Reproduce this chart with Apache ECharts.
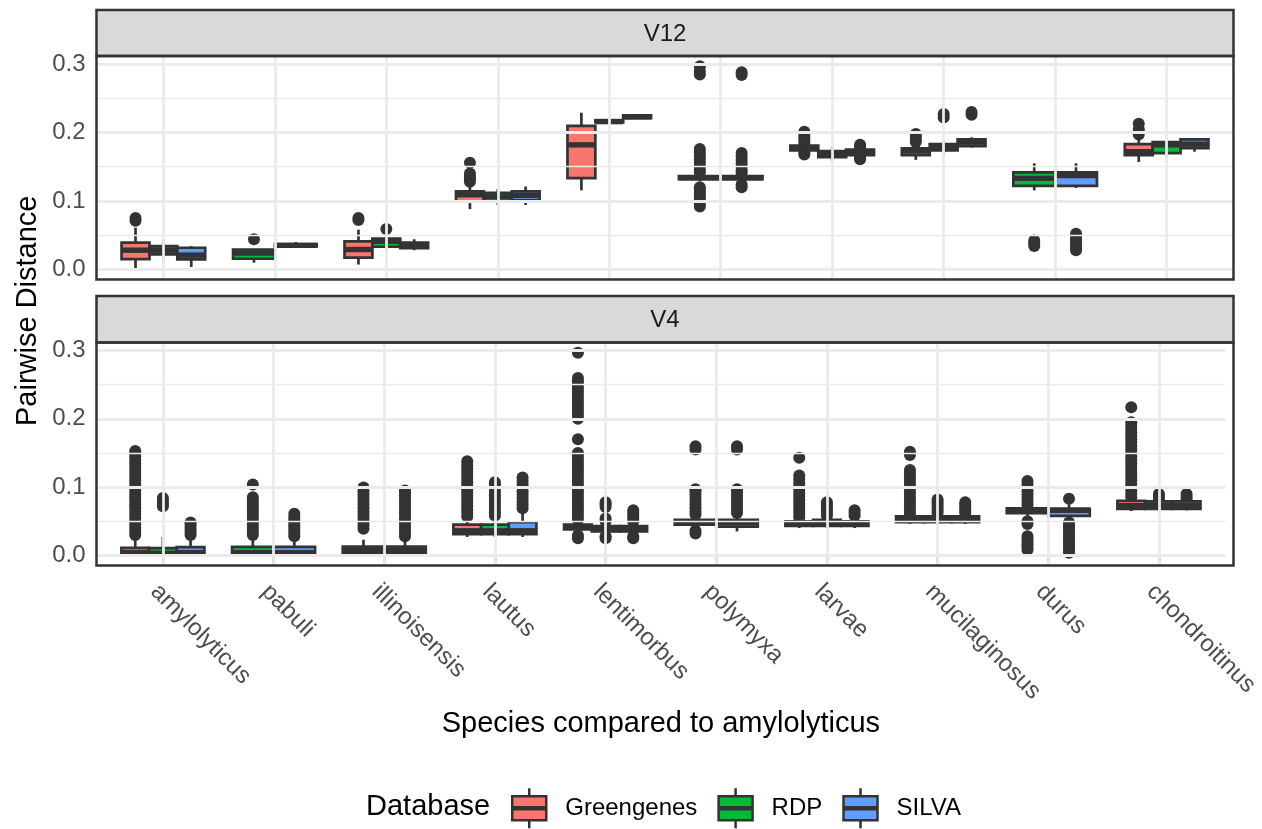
<!DOCTYPE html>
<html><head><meta charset="utf-8">
<script src="https://cdn.jsdelivr.net/npm/echarts@6/dist/echarts.min.js"></script>
<style>html,body{margin:0;padding:0;background:#fff}#c{width:1262px;height:829px}</style>
</head><body><div id="c"></div>
<script>
const categories = ['amylolyticus','pabuli','illinoisensis','lautus','lentimorbus','polymyxa','larvae','mucilaginosus','durus','chondroitinus'];
const databases = ['Greengenes','RDP','SILVA'];
const colors = ['#F8766D','#00BA38','#619CFF'];
const yTicks = [0, 0.1, 0.2, 0.3];
const yMinor = [0.05, 0.15, 0.25];

// box stats per category: [lower whisker, Q1, median, Q3, upper whisker]; null = group absent
const v12Greengenes = [
 [0.000, 0.015, 0.028, 0.039, 0.061], null,
 [0.007, 0.017, 0.029, 0.041, 0.058],
 [0.088, 0.099, 0.109, 0.114, 0.124],
 [0.1155, 0.1335, 0.182, 0.2097, 0.229], null,
 [0.172, 0.174, 0.178, 0.181, 0.183],
 [0.160, 0.167, 0.173, 0.177, 0.180], null,
 [0.157, 0.167, 0.172, 0.183, 0.191]
];
const v12RDP = [
 [0.010, 0.022, 0.028, 0.034, 0.044],
 [0.0097, 0.0155, 0.024, 0.029, 0.030],
 [0.028, 0.033, 0.041, 0.045, 0.050],
 [0.094, 0.099, 0.106, 0.112, 0.1175],
 [0.213, 0.215, 0.216, 0.218, 0.219],
 [0.129, 0.132, 0.134, 0.1365, 0.139],
 [0.159, 0.164, 0.169, 0.173, 0.180],
 [0.166, 0.174, 0.179, 0.183, 0.188],
 [0.1155, 0.122, 0.133, 0.1417, 0.155],
 [0.165, 0.170, 0.182, 0.186, 0.187]
];
const v12SILVA = [
 [0.0034, 0.0146, 0.0208, 0.0316, 0.034],
 [0.032, 0.0335, 0.035, 0.037, 0.040],
 [0.028, 0.031, 0.035, 0.039, 0.044],
 [0.094, 0.101, 0.108, 0.114, 0.121],
 [0.220, 0.221, 0.223, 0.225, 0.226],
 [0.128, 0.132, 0.134, 0.1365, 0.140],
 [0.163, 0.167, 0.172, 0.175, 0.178],
 [0.178, 0.180, 0.186, 0.190, 0.193],
 [0.119, 0.122, 0.137, 0.1417, 0.155],
 [0.172, 0.177, 0.183, 0.190, 0.191]
];
const v12GreengenesOut = [
 [0.071, 0.075], [], [0.072, 0.075],
 [0.128, 0.132, 0.136, 0.140, 0.156], [], [],
 [0.168, 0.171, 0.185, 0.189, 0.193, 0.197, 0.201],
 [0.186, 0.190, 0.194, 0.198], [],
 [0.197, 0.201, 0.205, 0.213]
];
const v12RDPOut = [
 [], [0.044], [0.059], [], [],
 [0.297, 0.290, 0.285, 0.176, 0.171, 0.166, 0.161, 0.156, 0.151, 0.146, 0.142, 0.120, 0.116, 0.112, 0.108, 0.104, 0.100, 0.096, 0.092],
 [], [0.222, 0.227], [0.034, 0.038, 0.042], []
];
const v12SILVAOut = [
 [], [], [], [], [],
 [0.288, 0.284, 0.170, 0.165, 0.160, 0.155, 0.150, 0.145, 0.141, 0.124, 0.120],
 [0.161, 0.164, 0.179, 0.182],
 [0.226, 0.230],
 [0.028, 0.032, 0.036, 0.040, 0.044, 0.048, 0.052], []
];

const v4Greengenes = [
 [0.000, 0.0005, 0.004, 0.011, 0.023], null, null,
 [0.027, 0.031, 0.036, 0.045, 0.052],
 [0.032, 0.038, 0.042, 0.045, 0.048], null,
 [0.040, 0.043, 0.046, 0.050, 0.052],
 [0.046, 0.0485, 0.053, 0.057, 0.058], null,
 [0.065, 0.068, 0.073, 0.080, 0.082]
];
const v4RDP = [
 [0.000, 0.0003, 0.003, 0.0105, 0.027],
 [0.000, 0.0005, 0.004, 0.0125, 0.022],
 [0.000, 0.003, 0.008, 0.013, 0.023],
 [0.027, 0.031, 0.036, 0.045, 0.052],
 [0.032, 0.035, 0.038, 0.043, 0.047],
 [0.040, 0.045, 0.049, 0.052, 0.056],
 [0.040, 0.043, 0.048, 0.052, 0.055],
 [0.046, 0.0485, 0.053, 0.057, 0.059],
 [0.058, 0.062, 0.066, 0.069, 0.071],
 [0.066, 0.068, 0.073, 0.079, 0.080]
];
const v4SILVA = [
 [0.000, 0.0005, 0.004, 0.012, 0.023],
 [0.000, 0.0005, 0.004, 0.0125, 0.022],
 [0.000, 0.003, 0.008, 0.013, 0.020],
 [0.027, 0.031, 0.036, 0.0485, 0.0645],
 [0.032, 0.035, 0.038, 0.043, 0.047],
 [0.035, 0.042, 0.048, 0.052, 0.058],
 [0.040, 0.043, 0.046, 0.050, 0.053],
 [0.046, 0.0485, 0.053, 0.057, 0.059],
 [0.056, 0.058, 0.066, 0.068, 0.075],
 [0.066, 0.068, 0.073, 0.079, 0.080]
];
const v4GreengenesOut = [
 [0.030,0.035,0.040,0.045,0.050,0.055,0.060,0.065,0.070,0.075,0.080,0.085,0.090,0.095,0.100,0.105,0.110,0.115,0.120,0.125,0.130,0.135,0.140,0.145,0.150,0.153],
 [], [],
 [0.057,0.062,0.067,0.072,0.077,0.082,0.087,0.092,0.097,0.102,0.107,0.112,0.117,0.122,0.127,0.132,0.138],
 [0.025,0.029,0.052,0.057,0.062,0.067,0.072,0.077,0.082,0.087,0.092,0.097,0.102,0.107,0.112,0.117,0.122,0.127,0.132,0.137,0.142,0.147,0.150,0.170,0.200,0.205,0.210,0.215,0.220,0.225,0.230,0.235,0.240,0.245,0.250,0.255,0.260,0.297],
 [],
 [0.056,0.061,0.066,0.071,0.076,0.081,0.086,0.091,0.096,0.101,0.106,0.111,0.117,0.143],
 [0.061,0.066,0.071,0.076,0.081,0.086,0.091,0.096,0.101,0.106,0.111,0.116,0.121,0.125,0.147,0.152],
 [],
 [0.085,0.090,0.095,0.100,0.105,0.110,0.115,0.120,0.125,0.130,0.135,0.140,0.145,0.150,0.155,0.160,0.165,0.170,0.175,0.180,0.185,0.190,0.195,0.217]
];
const v4RDPOut = [
 [0.072,0.076,0.080,0.084],
 [0.030,0.035,0.040,0.045,0.050,0.055,0.060,0.065,0.070,0.075,0.080,0.085,0.104],
 [0.039,0.044,0.049,0.054,0.059,0.064,0.069,0.074,0.079,0.084,0.089,0.094,0.0995],
 [0.058,0.063,0.068,0.073,0.078,0.083,0.088,0.093,0.098,0.103,0.107],
 [0.025,0.028,0.050,0.054,0.071,0.075,0.078],
 [0.032,0.036,0.060,0.064,0.069,0.074,0.079,0.084,0.089,0.094,0.097,0.155,0.160],
 [0.058,0.062,0.066,0.070,0.074,0.078],
 [0.062,0.066,0.070,0.074,0.078,0.082],
 [0.008,0.012,0.016,0.020,0.024,0.028,0.046,0.050,0.074,0.079,0.084,0.089,0.094,0.099,0.104,0.109],
 [0.082,0.086,0.090]
];
const v4SILVAOut = [
 [0.030,0.034,0.038,0.042,0.046,0.048],
 [0.028,0.032,0.036,0.040,0.044,0.048,0.052,0.056,0.061],
 [0.028,0.033,0.038,0.043,0.048,0.053,0.058,0.063,0.068,0.073,0.078,0.083,0.088,0.092,0.095],
 [0.069,0.074,0.079,0.084,0.089,0.094,0.099,0.104,0.109,0.114],
 [0.025,0.028,0.050,0.054,0.058,0.062,0.066],
 [0.062,0.067,0.072,0.077,0.082,0.087,0.092,0.097,0.155,0.160],
 [0.058,0.062,0.066],
 [0.062,0.066,0.070,0.074,0.078],
 [0.004,0.008,0.012,0.016,0.020,0.024,0.028,0.032,0.036,0.040,0.044,0.048,0.083],
 [0.082,0.086,0.090]
];

const panels = [
  {name: 'V12', boxes: [v12Greengenes, v12RDP, v12SILVA], outs: [v12GreengenesOut, v12RDPOut, v12SILVAOut]},
  {name: 'V4', boxes: [v4Greengenes, v4RDP, v4SILVA], outs: [v4GreengenesOut, v4RDPOut, v4SILVAOut]}
];

const FONT = '"Liberation Sans", Arial, Helvetica, sans-serif';
const L = 96.5, R = 1233.5, W = R - L;
const layout = [
  {strip: 10, top: 56, bottom: 279.5},
  {strip: 296, top: 342.5, bottom: 565.5}
];
const Y_MIN = -0.01485, Y_MAX = 0.3119;
const X_MIN = -0.6, X_MAX = 9.6;
const DODGE = 0.75;
const DARK = '#333333';
const TICK_FONT = 24;

function renderBox(params, api) {
  const x = api.value(0), w = api.value(6);
  const c = v => api.coord([x, v]);
  const pLow = c(api.value(1)), pQ1 = c(api.value(2)), pMed = c(api.value(3)), pQ3 = c(api.value(4)), pHigh = c(api.value(5));
  const half = api.size([w, 0])[0] / 2;
  const cx = pMed[0];
  const fill = api.visual('color');
  const ls = {stroke: DARK, lineWidth: 2.7};
  return {type: 'group', children: [
    {type: 'line', shape: {x1: cx, y1: pHigh[1], x2: cx, y2: pQ3[1]}, style: ls},
    {type: 'line', shape: {x1: cx, y1: pQ1[1], x2: cx, y2: pLow[1]}, style: ls},
    {type: 'rect', shape: {x: cx - half, y: pQ3[1], width: 2 * half, height: pQ1[1] - pQ3[1]}, style: {fill: fill, stroke: DARK, lineWidth: 2.7}},
    {type: 'line', shape: {x1: cx - half, y1: pMed[1], x2: cx + half, y2: pMed[1]}, style: {stroke: DARK, lineWidth: 5.4}}
  ]};
}

const grids = [], xAxes = [], yAxes = [], series = [], graphics = [];
const catIdx = categories.map((c, i) => i);
panels.forEach((p, pi) => {
  const lay = layout[pi];
  const isBottom = pi === panels.length - 1;
  grids.push({left: L, top: lay.top, width: W, height: lay.bottom - lay.top, show: true, backgroundColor: '#fff', borderWidth: 0});
  xAxes.push({
    gridIndex: pi, type: 'value', min: X_MIN, max: X_MAX,
    axisLine: {show: false}, splitLine: {show: false},
    axisTick: {show: isBottom, customValues: catIdx, length: 7, lineStyle: {color: DARK, width: 2.5}},
    axisLabel: {show: isBottom, customValues: catIdx, formatter: v => categories[Math.round(v)] || '', rotate: -45,
      verticalAlign: 'top', fontSize: TICK_FONT, color: '#4D4D4D', fontFamily: FONT, margin: 14},
    name: isBottom ? 'Species compared to amylolyticus' : '', nameLocation: 'middle', nameGap: 144,
    nameTextStyle: {fontSize: 29, color: '#000', fontFamily: FONT}
  });
  yAxes.push({
    gridIndex: pi, type: 'value', min: Y_MIN, max: Y_MAX,
    axisLine: {show: false}, splitLine: {show: false},
    axisTick: {show: true, customValues: yTicks, length: 7, lineStyle: {color: DARK, width: 2.5}},
    axisLabel: {customValues: yTicks, formatter: v => v.toFixed(1), fontSize: TICK_FONT, color: '#4D4D4D', fontFamily: FONT, margin: 11}
  });
  series.push({
    type: 'scatter', name: 'grid' + pi, xAxisIndex: pi, yAxisIndex: pi, data: [], silent: true, z: 1, animation: false,
    markLine: {silent: true, symbol: ['none', 'none'], label: {show: false}, animation: false,
      data: [].concat(
        yMinor.map(v => ({yAxis: v, lineStyle: {color: '#EBEBEB', width: 1.4, type: 'solid'}})),
        yTicks.map(v => ({yAxis: v, lineStyle: {color: '#EBEBEB', width: 2.8, type: 'solid'}})),
        catIdx.map(i => ({xAxis: i, lineStyle: {color: '#EBEBEB', width: 2.8, type: 'solid'}}))
      )}
  });
  const outData = [];
  const boxData = databases.map(() => []);
  categories.forEach((c, ci) => {
    const present = databases.map((d, di) => di).filter(di => p.boxes[di][ci]);
    const n = present.length, w = DODGE / n;
    present.forEach((di, k) => {
      const x = ci + (k - (n - 1) / 2) * w;
      const s = p.boxes[di][ci];
      boxData[di].push([x, s[0], s[1], s[2], s[3], s[4], w]);
      p.outs[di][ci].forEach(v => outData.push([x, v]));
    });
  });
  series.push({type: 'scatter', name: 'outliers ' + p.name, xAxisIndex: pi, yAxisIndex: pi, data: outData,
    symbol: 'circle', symbolSize: 12, itemStyle: {color: DARK, opacity: 1}, z: 2, silent: true, animation: false});
  databases.forEach((d, di) => {
    series.push({type: 'custom', name: d, xAxisIndex: pi, yAxisIndex: pi, data: boxData[di],
      itemStyle: {color: colors[di]}, z: 3, renderItem: renderBox, encode: {x: 0, y: 1}, animation: false, silent: true});
  });
  graphics.push({type: 'rect', shape: {x: L, y: lay.strip, width: W, height: lay.top - lay.strip},
    style: {fill: '#D9D9D9', stroke: DARK, lineWidth: 2.5}, z: 10, silent: true});
  graphics.push({type: 'text', x: L + W / 2, y: (lay.strip + lay.top) / 2 + 1.5, z: 11, silent: true,
    style: {text: p.name, fontSize: TICK_FONT, fontFamily: FONT, fill: '#1A1A1A', textAlign: 'center', textVerticalAlign: 'middle'}});
  graphics.push({type: 'rect', shape: {x: L, y: lay.top, width: W, height: lay.bottom - lay.top},
    style: {fill: 'none', stroke: DARK, lineWidth: 2.5}, z: 100, silent: true});
});
graphics.push({type: 'text', x: 28, y: (layout[0].top + layout[1].bottom) / 2, rotation: Math.PI / 2, silent: true,
  style: {text: 'Pairwise Distance', fontSize: 29, fontFamily: FONT, fill: '#000', textAlign: 'center', textVerticalAlign: 'middle'}});

const chart = echarts.init(document.getElementById('c'));
chart.setOption({
  animation: false,
  backgroundColor: '#fff',
  title: [{text: 'Database', left: 361, top: 787, textStyle: {fontSize: 29, fontWeight: 'normal', color: '#000', fontFamily: FONT}}],
  legend: {
    data: databases, left: 506, top: 782, orient: 'horizontal', itemWidth: 34, itemHeight: 40, itemGap: 20,
    icon: 'path://M17,0L17,8M17,32L17,40M0,8L34,8L34,32L0,32ZM0,19L34,19M0,21L34,21',
    itemStyle: {borderColor: DARK, borderWidth: 2.5},
    textStyle: {fontSize: TICK_FONT, color: '#000', fontFamily: FONT, padding: [0, 0, 0, 14]},
    selectedMode: false
  },
  grid: grids, xAxis: xAxes, yAxis: yAxes, series: series, graphic: graphics
});
</script></body></html>
